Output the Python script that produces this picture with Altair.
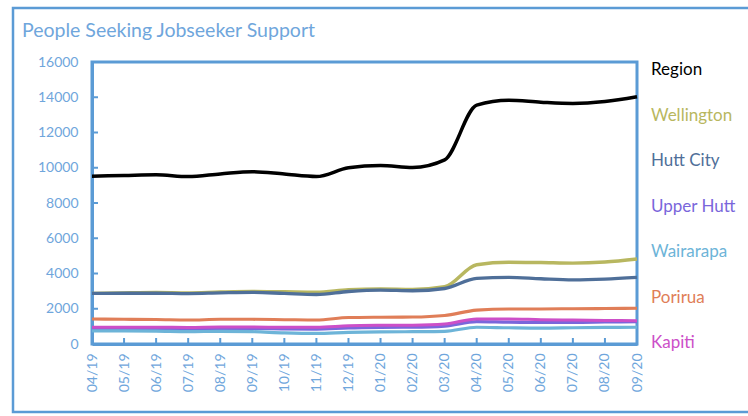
import altair as alt
import pandas as pd

months = ["04/19","05/19","06/19","07/19","08/19","09/19","10/19","11/19","12/19",
          "01/20","02/20","03/20","04/20","05/20","06/20","07/20","08/20","09/20"]

series_names = ["Region", "Wellington", "Hutt City", "Upper Hutt", "Wairarapa", "Porirua", "Kapiti"]
series_colors = ["#000000", "#B8B760", "#4F6F99", "#7A66DB", "#6DB4D8", "#E07E58", "#CC4FC8"]

region     = [9520, 9560, 9600, 9500, 9650, 9780, 9640, 9500, 10000, 10130, 10020, 10450, 13550, 13830, 13720, 13650, 13760, 14030]
wellington = [2870, 2900, 2920, 2900, 2950, 2980, 2960, 2940, 3080, 3120, 3100, 3250, 4500, 4640, 4620, 4590, 4650, 4820]
hutt_city  = [2870, 2880, 2880, 2860, 2900, 2930, 2870, 2810, 2980, 3060, 3020, 3150, 3720, 3780, 3700, 3640, 3680, 3780]
upper_hutt = [850, 870, 870, 860, 880, 880, 860, 850, 920, 950, 960, 1020, 1270, 1240, 1230, 1230, 1250, 1270]
wairarapa  = [740, 740, 730, 700, 720, 700, 630, 600, 660, 690, 700, 720, 950, 920, 900, 920, 940, 950]
porirua    = [1420, 1400, 1390, 1360, 1400, 1400, 1380, 1360, 1500, 1520, 1530, 1620, 1920, 1990, 1990, 2000, 2010, 2030]
kapiti     = [950, 950, 950, 940, 960, 960, 950, 950, 1030, 1060, 1070, 1130, 1420, 1420, 1380, 1360, 1340, 1320]

y_ticks = [2000, 4000, 6000, 8000, 10000, 12000, 14000]
title_text = "People Seeking Jobseeker Support"

values = {"Region": region, "Wellington": wellington, "Hutt City": hutt_city,
          "Upper Hutt": upper_hutt, "Wairarapa": wairarapa, "Porirua": porirua, "Kapiti": kapiti}

rows = []
for s in series_names:
    for m, v in zip(months, values[s]):
        rows.append({"month": m, "series": s, "value": v})
df = pd.DataFrame(rows)

BLUE = "#5B9BD5"
LBLUE = "#6FA6DC"
FONT = "Lato"
W, H = 545, 282

xscale = alt.Scale(type="point", domain=months, padding=0)
yscale = alt.Scale(domain=[0, 16000])
cscale = alt.Scale(domain=series_names, range=series_colors)

xaxis = alt.Axis(title=None, labelAngle=-90, labelColor=LBLUE, labelFontSize=14,
                 labelFont=FONT, ticks=False, labelPadding=9, domainColor=BLUE,
                 domainWidth=3)

lines = alt.Chart(df).mark_line(interpolate="monotone").encode(
    x=alt.X("month:O", scale=xscale, sort=months, axis=xaxis),
    y=alt.Y("value:Q", scale=yscale,
            axis=alt.Axis(title=None, values=[0] + y_ticks + [16000], format="d",
                          labelColor=LBLUE, labelFontSize=14, labelFont=FONT, ticks=False,
                          labelPadding=14, domainColor=BLUE, domainWidth=3, grid=False)),
    color=alt.Color("series:N", scale=cscale, sort=series_names, legend=None),
    strokeWidth=alt.StrokeWidth("series:N", scale=alt.Scale(domain=series_names,
                                range=[3.5, 3, 3, 3, 3, 3, 3.2]), legend=None),
)

ytick_df = pd.DataFrame({"value": y_ticks})
yticks = alt.Chart(ytick_df).mark_rule(color=BLUE, strokeWidth=2).encode(
    y=alt.Y("value:Q", scale=yscale, axis=None), x=alt.value(0), x2=alt.value(6))

xtick_df = pd.DataFrame({"month": months[1:-1]})
xticks = alt.Chart(xtick_df).mark_rule(color=BLUE, strokeWidth=2).encode(
    x=alt.X("month:O", scale=xscale, sort=months, axis=xaxis), y=alt.value(H), y2=alt.value(H - 6))

frame = alt.Chart(pd.DataFrame({"a": [0]})).mark_rect(fillOpacity=0, stroke=BLUE, strokeWidth=2.5).encode(
    x=alt.value(-79), x2=alt.value(670), y=alt.value(-54), y2=alt.value(350))

title = alt.Chart(pd.DataFrame({"t": [title_text]})).mark_text(
    align="left", baseline="alphabetic", font=FONT, fontSize=19.5, color=LBLUE).encode(
    text="t:N", x=alt.value(-70), y=alt.value(-25))

legend_df = pd.DataFrame({"series": series_names})
legend = alt.Chart(legend_df).mark_text(align="left", baseline="middle", font=FONT,
                                        fontSize=17).encode(
    x=alt.value(W + 14),
    y=alt.Y("series:N", sort=series_names,
            scale=alt.Scale(type="point", domain=series_names, range=[8, 281], padding=0),
            axis=None),
    text="series:N",
    color=alt.Color("series:N", scale=cscale, sort=series_names, legend=None),
)

chart = alt.layer(frame, title, lines, yticks, xticks, legend).resolve_scale(y="independent").properties(
    width=W, height=H,
    background="white",
    autosize=alt.AutoSizeParams(type="none"),
    padding={"left": 92, "top": 62, "right": 111, "bottom": 72},
).configure_view(stroke=BLUE, strokeWidth=3)

chart.save("out.html", embed_options={"renderer": "svg", "actions": False})
